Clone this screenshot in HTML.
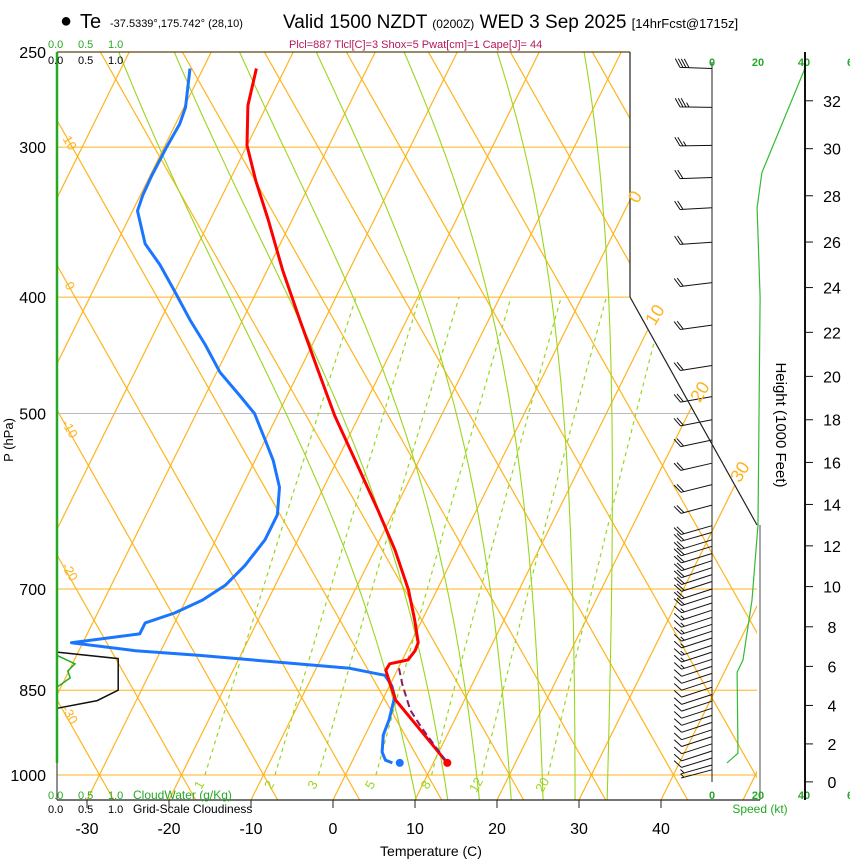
<!DOCTYPE html>
<html><head><meta charset="utf-8"><style>
html,body{margin:0;padding:0;background:#fff;}
svg{display:block;font-family:"Liberation Sans",sans-serif;}
</style></head><body>
<svg id="chart" width="850" height="860" viewBox="0 0 850 860" xmlns="http://www.w3.org/2000/svg">
<defs><clipPath id="plotclip"><polygon points="57,52 630,52 630,297 757,525 757,800 57,800"/></clipPath></defs>
<g id="grid" clip-path="url(#plotclip)"></g>
<g id="marks"></g>
<g id="axes"></g>
<text x="60" y="27" font-size="20">●</text>
<text x="80" y="28" font-size="20">Te</text>
<text x="110" y="27" font-size="11">-37.5339°,175.742° (28,10)</text>
<text x="283" y="28" font-size="19">Valid 1500 NZDT <tspan font-size="12">(0200Z)</tspan> WED 3 Sep 2025 <tspan font-size="13">[14hrFcst@1715z]</tspan></text>
<text x="289" y="48" font-size="11" fill="#b5175a">Plcl=887 Tlcl[C]=3 Shox=5 Pwat[cm]=1 Cape[J]= 44</text>
</svg>
<script>
const tempP=[258,277,299,320,345,380,418,460,502,547,602,650,701,743,776,788,802,808,818,829,866,917,977];
const tempC=[-53.5,-52.3,-50.0,-46.8,-42.9,-38.1,-33.0,-27.8,-23.0,-17.8,-12.0,-7.5,-3.5,-0.9,0.9,1.0,0.7,-1.3,-1.4,-0.7,1.6,6.4,11.7];
const dewP=[258,278,287,300,317,329,339,361,376,395,418,438,462,483,500,526,547,576,607,637,669,695,715,733,747,763,776,788,795,815,826,843,861,900,926,957,972,977];
const dewC=[-61.6,-59.8,-59.5,-59.7,-59.8,-59.7,-59.4,-56.5,-53.4,-50.1,-46.4,-43.1,-39.6,-35.8,-32.9,-30.0,-27.8,-25.4,-24.0,-24.0,-24.9,-26.1,-28.0,-30.6,-33.6,-33.6,-41.4,-33.1,-25.0,-5.9,-1.2,0.3,1.3,2.0,2.2,3.1,4.0,5.0];
const parcelP=[815,841,883,914,977];
const parcelC=[0.1,1.5,4.0,6.5,11.7];
const surfaceT=11.7, surfaceTd=5.9, surfaceP=977;
const speedP=[258,315,337,400,619,715,802,821,959,977];
const speedKt=[40.4,21.7,19.6,20.9,20,17.4,13.5,10.9,11.3,6.5];
const barbP=[258,278,299,318,337,360,389,422,456,484,506,526,550,573,596,620,628,637,645,654,663,672,681,690,700,709,719,729,739,749,759,769,780,790,801,812,823,834,845,857,868,880,892,904,917,929,942,955,968,981,990];
const barbDir=[-2,-1,1,2,3,4,7,8,9,10,11,12,13,14,15,16,16,17,17,17,18,18,18,18,18,18,18,18,18,18,18,18,18,18,18,18,18,18,18,18,18,18,18,18,18,18,18,18,17,16,15];
const cloudFracP=[790,800,850,867,880];
const cloudFrac=[0,1.02,1.02,0.67,0];
const cloudWaterP=[795,808,819,830,845];
const cloudWater=[0,0.3,0.18,0.22,0];
const tempTicks=[-30,-20,-10,0,10,20,30,40];
const presTicks=[250,300,400,500,700,850,1000];
const heightTicks=[0,2,4,6,8,10,12,14,16,18,20,22,24,26,28,30,32];
const mixRatios=[1,2,3,5,8,12,20];
const thetaW=[8,12,16,20,24,28,32];
const isoLabels=[0,10,20,30];
const adiaLabels=[10,0,-10,-20,-30];
const speedTicks=[0,20,40,60];

const NS="http://www.w3.org/2000/svg";
const yP=p=>775+521.5*Math.log(p/1000);
const pY=y=>1000*Math.exp((y-775)/521.5);
const xT=(T,y)=>333+8.2*T+0.495*(800-y);
const xS=k=>712+2.3*k;
const hY=kft=>{const m=kft*304.8;return yP(1013.25*Math.pow(1-2.25577e-5*m,5.2559));};
function mk(parent,tag,attrs,text){const e=document.createElementNS(NS,tag);for(const k in attrs)e.setAttribute(k,attrs[k]);if(text!==undefined)e.textContent=text;parent.appendChild(e);return e;}
const grid=document.getElementById('grid'),marks=document.getElementById('marks'),axes=document.getElementById('axes');
const OR="#ffb41e",GR="#99d61e";
// isotherms
for(let T=-120;T<=50;T+=10){const l=mk(grid,'line',{x1:xT(T,800),y1:800,x2:xT(T,52),y2:52,stroke:OR,'stroke-width':1.2});

}
// adiabat family (straight)
for(let k=-2;k<=16;k++){const x0=99+82*k;const l=mk(grid,'line',{x1:x0,y1:774,x2:x0-0.566*(774-52),y2:52,stroke:OR,'stroke-width':1.2});


const l2=mk(grid,'line',{x1:x0,y1:774,x2:x0+0.566*26,y2:800,stroke:OR,'stroke-width':1.2});

}
// isobars
presTicks.forEach(p=>{if(p===250)return;const y=yP(p);const l=mk(grid,'line',{x1:57,y1:y,x2:760,y2:y,stroke:p===500?"#bbbbbb":OR,'stroke-width':1});

});
// mixing ratio lines
function tdew(w,p){const e=w*p/(622+w);const a=Math.log(e/6.112);return 243.5*a/(17.67-a);}
mixRatios.forEach(w=>{let d='';for(let p=1000;p>=400;p-=10){const y=yP(p);d+=(p===1000?'M':'L')+xT(tdew(w,p),y).toFixed(1)+','+y.toFixed(1);}
const l=mk(grid,'path',{d:d,fill:'none',stroke:GR,'stroke-width':1.2,'stroke-dasharray':'4,4'});


const y=787,x=xT(tdew(w,1000),775)-2;
const t=mk(axes,'text',{x:x,y:y,'font-size':13,fill:GR,transform:`rotate(-60 ${x} ${y})`,'text-anchor':'middle'},String(w));

});
// pseudoadiabats
function moist(tw){const Rd=287,Cp=1004,Lv=2.5e6,eps=0.622;
const f=(T,p)=>{const es=6.112*Math.exp(17.67*(T-273.15)/(T-29.65));const rs=eps*es/(p-es);return (Rd*T+Lv*rs)/(p*(Cp+Lv*Lv*rs*eps/(Rd*T*T)));};
const pts=[];let T=tw+273.15;for(let p=1000;p<=1050;p+=5){pts.push([p,T]);T+=f(T,p)*5;}
const up=[];T=tw+273.15;for(let p=1000;p>=240;p-=5){up.push([p,T]);T-=f(T,p)*5;}
return up.reverse().concat(pts.slice(1));}
thetaW.forEach(tw=>{const pts=moist(tw);let d='';pts.forEach((q,i)=>{const y=yP(q[0]);d+=(i?'L':'M')+xT(q[1]-273.15,y).toFixed(1)+','+y.toFixed(1);});
const l=mk(grid,'path',{d:d,fill:'none',stroke:GR,'stroke-width':1.1});

});
// borders
[[57,52,630,52],[630,52,630,297],[630,297,757,525],[57,800,760,800],[760,525,760,800]].forEach(s=>{const l=mk(axes,'line',{x1:s[0],y1:s[1],x2:s[2],y2:s[3],stroke:s[1]===52&&s[3]===52?"#5a4410":"#222",'stroke-width':s[0]===760?0.8:1.2});

});
// labels isotherm / adiabat
const isoPos=[[640,200],[660,318],[705,395],[745,475]];
isoLabels.forEach((v,i)=>{const x=isoPos[i][0],y=isoPos[i][1];const t=mk(axes,'text',{x:x,y:y,'font-size':18,fill:"#ffb41e",transform:`rotate(-58 ${x} ${y})`,'text-anchor':'middle'},String(v));

});
adiaLabels.forEach((v,i)=>{const x=66,y=145+143*i;const t=mk(axes,'text',{x:x,y:y,'font-size':13,fill:"#ffb41e",transform:`rotate(60 ${x} ${y})`,'text-anchor':'middle'},String(v));

});
// pressure axis
presTicks.forEach(p=>{const t=mk(axes,'text',{x:46,y:yP(p)+6,'font-size':16,'text-anchor':'end'},String(p));

});
{const t=mk(axes,'text',{x:13,y:440,'font-size':13,transform:'rotate(-90 13 440)','text-anchor':'middle'},'P (hPa)');

}
// temperature axis
tempTicks.forEach(T=>{const x=333+8.2*T;const l=mk(axes,'line',{x1:x,y1:800,x2:x,y2:808,stroke:'#222'});


const t=mk(axes,'text',{x:x,y:834,'font-size':16,'text-anchor':'middle'},String(T));

});
{const t=mk(axes,'text',{x:431,y:856,'font-size':14,'text-anchor':'middle'},'Temperature (C)');

}
// cloud panel
{const l=mk(axes,'line',{x1:57,y1:52,x2:57,y2:763,stroke:'#22aa22','stroke-width':2.5});
const l2=mk(axes,'line',{x1:57,y1:763,x2:57,y2:800,stroke:'#222','stroke-width':1});}
const xC=v=>57+60*v;
[['0.0',0],['0.5',0.5],['1.0',1]].forEach(a=>{
const t1=mk(axes,'text',{x:xC(a[1])-9,y:48,'font-size':11,fill:'#22aa22'},a[0]);
const t2=mk(axes,'text',{x:xC(a[1])-9,y:64,'font-size':11},a[0]);
const t3=mk(axes,'text',{x:xC(a[1])-9,y:799,'font-size':11,fill:'#22aa22'},a[0]);
const t4=mk(axes,'text',{x:xC(a[1])-9,y:813,'font-size':11},a[0]);});
{const t=mk(axes,'text',{x:133,y:799,'font-size':12,fill:'#22aa22'},'CloudWater (g/Kg)');
const t2=mk(axes,'text',{x:133,y:813,'font-size':12},'Grid-Scale Cloudiness');}
function poly(P,V,fx,fy){return P.map((p,i)=>fx(V[i],yP(p)).toFixed(1)+','+yP(p).toFixed(1)).join(' ');}
{const l=mk(marks,'polyline',{points:poly(cloudFracP,cloudFrac,(v)=>xC(v)),fill:'none',stroke:'#111','stroke-width':1.5});
const l2=mk(marks,'polyline',{points:poly(cloudWaterP,cloudWater,(v)=>xC(v)),fill:'none',stroke:'#22aa22','stroke-width':1.5});}
// sounding lines
{const d=mk(marks,'polyline',{points:poly(dewP,dewC,xT),fill:'none',stroke:'#1a75ff','stroke-width':3,'stroke-linejoin':'round'});
const t=mk(marks,'polyline',{points:poly(tempP,tempC,xT),fill:'none',stroke:'#ff0000','stroke-width':3,'stroke-linejoin':'round'});
const pc=mk(marks,'polyline',{points:poly(parcelP,parcelC,xT),fill:'none',stroke:'#8a1a6a','stroke-width':2,'stroke-dasharray':'7,4'});
const sy=yP(surfaceP);
const c1=mk(marks,'circle',{cx:xT(surfaceTd,sy),cy:sy,r:4,fill:'#1a75ff'});
const c2=mk(marks,'circle',{cx:xT(surfaceT,sy),cy:sy,r:4,fill:'#ff0000'});}
// speed axis
{const l=mk(axes,'line',{x1:712,y1:62,x2:712,y2:782,stroke:'#222','stroke-width':1});}
speedTicks.forEach(k=>{[66,799].forEach(y=>{const t=mk(axes,'text',{x:xS(k),y:y,'font-size':11,fill:'#22aa22','font-weight':'bold','text-anchor':'middle'},k===60?'6':String(k));

});});
{const t=mk(axes,'text',{x:760,y:813,'font-size':12,fill:'#22aa22','text-anchor':'middle'},'Speed (kt)');}
{const l=mk(marks,'polyline',{points:speedP.map((p,i)=>xS(speedKt[i]).toFixed(1)+','+yP(p).toFixed(1)).join(' '),fill:'none',stroke:'#33bb33','stroke-width':1.2});}
// barbs
function interp(P,V,p){for(let i=0;i<P.length-1;i++){if(p>=P[i]&&p<=P[i+1])return V[i]+(V[i+1]-V[i])*(p-P[i])/(P[i+1]-P[i]);}return p<P[0]?V[0]:V[V.length-1];}
barbP.forEach((p,i)=>{const y=yP(p);const a=barbDir[i]*Math.PI/180;const ux=-Math.cos(a),uy=Math.sin(a);
const tx=712+32*ux,ty=y+32*uy;let d=`M712,${y.toFixed(1)}L${tx.toFixed(1)},${ty.toFixed(1)}`;
const th=60*Math.PI/180;const bx=ux*Math.cos(th)-uy*Math.sin(th),by=ux*Math.sin(th)+uy*Math.cos(th);
let s=Math.round(interp(speedP,speedKt,p)/5)*5;let k=0;
while(s>=10){const sx=tx-ux*3*k,sy=ty-uy*3*k;d+=`M${sx.toFixed(1)},${sy.toFixed(1)}l${(bx*10).toFixed(1)},${(by*10).toFixed(1)}`;s-=10;k++;}
if(s>=5){const sx=tx-ux*3*(k+ (k?0:1)),sy=ty-uy*3*(k+(k?0:1));d+=`M${sx.toFixed(1)},${sy.toFixed(1)}l${(bx*5).toFixed(1)},${(by*5).toFixed(1)}`;}
const g=mk(marks,'path',{d:d,fill:'none',stroke:'#111','stroke-width':1});

});
// height axis
{const l=mk(axes,'line',{x1:805,y1:52,x2:805,y2:800,stroke:'#111','stroke-width':2});}
heightTicks.forEach(h=>{const y=hY(h);const l=mk(axes,'line',{x1:805,y1:y,x2:813,y2:y,stroke:'#111'});


const t=mk(axes,'text',{x:832,y:y+6,'font-size':16,'text-anchor':'middle'},String(h));

});
{const t=mk(axes,'text',{x:776,y:425,'font-size':15,transform:'rotate(90 776 425)','text-anchor':'middle'},'Height (1000 Feet)');}
</script>
</body></html>
